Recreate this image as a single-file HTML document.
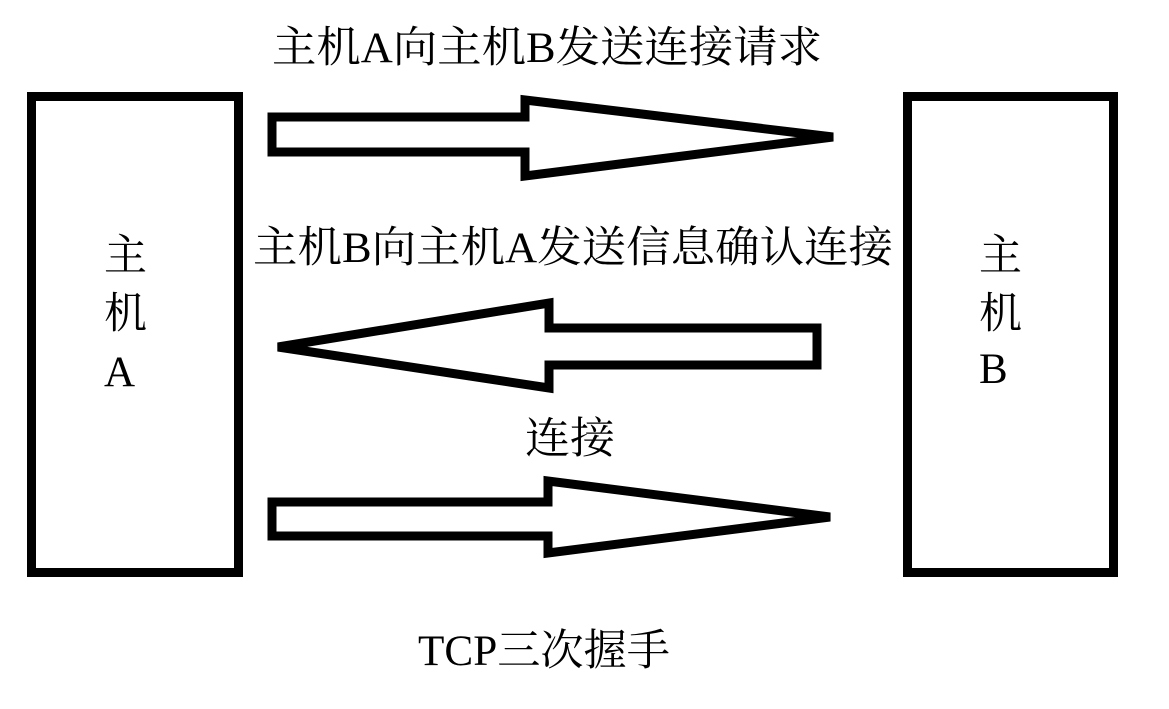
<!DOCTYPE html>
<html><head><meta charset="utf-8"><style>
html,body{margin:0;padding:0;background:#fff;}
svg{display:block;}
text{font-family:"Liberation Serif","Noto Serif CJK SC",serif;fill:#000;}
</style></head><body>
<svg width="1169" height="709" viewBox="0 0 1169 709" xmlns="http://www.w3.org/2000/svg">
<g fill="none" stroke="#000" stroke-width="9" stroke-linejoin="miter">
<rect x="31.5" y="96.5" width="207" height="476"/>
<rect x="907.5" y="96.5" width="206" height="476"/>
<polygon points="272,117 525,117 525,100 833,137 525,176 525,152 272,152"/>
<polygon points="817,328 549,328 549,303 278,347 549,388 549,365 817,365"/>
<polygon points="272,502 548,502 548,481 830,517 548,553 548,536 272,536"/>
</g>
<g font-size="43">
<text x="272" y="62" textLength="550" lengthAdjust="spacingAndGlyphs">主机A向主机B发送连接请求</text>
<text x="253" y="262" textLength="640" lengthAdjust="spacingAndGlyphs">主机B向主机A发送信息确认连接</text>
<text x="525" y="453" textLength="90" lengthAdjust="spacingAndGlyphs">连接</text>
<text x="418" y="665" textLength="252" lengthAdjust="spacingAndGlyphs">TCP三次握手</text>
<text x="104" y="270">主</text>
<text x="104" y="328">机</text>
<text x="104" y="386">A</text>
<text x="979" y="270">主</text>
<text x="979" y="328">机</text>
<text x="979" y="383">B</text>
</g>
</svg>
</body></html>
